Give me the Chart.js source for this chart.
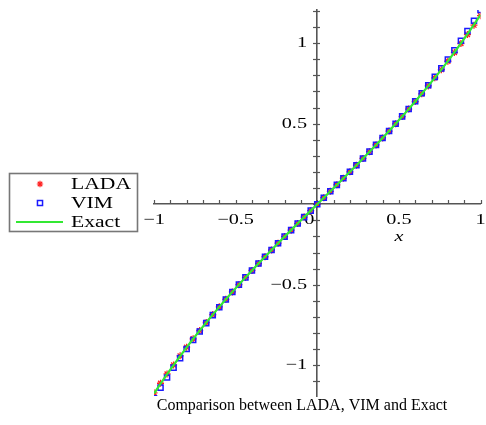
<!DOCTYPE html>
<html lang="en">
<head>
<meta charset="UTF-8">
<title>Comparison between LADA, VIM and Exact</title>
<script src="https://cdn.jsdelivr.net/npm/chart.js@4"></script>
<style>
  * { margin: 0; padding: 0; box-sizing: border-box; }
  body { background: #fff; }
  .wrap { position: relative; width: 486px; height: 425px; }
</style>
</head>
<body>
<div class="wrap"><canvas id="chart"></canvas></div>
<script>
// values
const xValues = [-1.00, -0.96, -0.92, -0.88, -0.84, -0.80, -0.76, -0.72, -0.68, -0.64, -0.60,
  -0.56, -0.52, -0.48, -0.44, -0.40, -0.36, -0.32, -0.28, -0.24, -0.20, -0.16, -0.12, -0.08, -0.04,
  0.00, 0.04, 0.08, 0.12, 0.16, 0.20, 0.24, 0.28, 0.32, 0.36, 0.40, 0.44, 0.48, 0.52, 0.56, 0.60,
  0.64, 0.68, 0.72, 0.76, 0.80, 0.84, 0.88, 0.92, 0.96, 1.00];

const ladaValues = [-1.170, -1.111, -1.053, -0.997, -0.941, -0.887, -0.835, -0.784, -0.734, -0.685, -0.637,
  -0.590, -0.544, -0.499, -0.454, -0.411, -0.368, -0.326, -0.284, -0.242, -0.201, -0.161, -0.120, -0.080, -0.040,
  0.000, 0.040, 0.080, 0.120, 0.161, 0.201, 0.242, 0.284, 0.326, 0.368, 0.411, 0.454, 0.499, 0.544, 0.590, 0.637,
  0.685, 0.734, 0.784, 0.835, 0.887, 0.941, 0.997, 1.053, 1.111, 1.170];

const vimValues = [-1.205, -1.138, -1.075, -1.014, -0.955, -0.898, -0.843, -0.790, -0.738, -0.688, -0.639,
  -0.591, -0.545, -0.499, -0.454, -0.411, -0.368, -0.326, -0.284, -0.242, -0.201, -0.161, -0.120, -0.080, -0.040,
  0.000, 0.040, 0.080, 0.120, 0.161, 0.201, 0.242, 0.284, 0.326, 0.368, 0.411, 0.454, 0.499, 0.545, 0.591, 0.639,
  0.688, 0.738, 0.790, 0.843, 0.898, 0.955, 1.014, 1.075, 1.138, 1.205];

const exactValues = [-1.175, -1.114, -1.055, -0.998, -0.942, -0.888, -0.835, -0.784, -0.734, -0.685, -0.637,
  -0.590, -0.544, -0.499, -0.454, -0.411, -0.368, -0.326, -0.284, -0.242, -0.201, -0.161, -0.120, -0.080, -0.040,
  0.000, 0.040, 0.080, 0.120, 0.161, 0.201, 0.242, 0.284, 0.326, 0.368, 0.411, 0.454, 0.499, 0.544, 0.590, 0.637,
  0.685, 0.734, 0.784, 0.835, 0.888, 0.942, 0.998, 1.055, 1.114, 1.175];

const seriesNames = ['LADA', 'VIM', 'Exact'];
const xTickLabels = [-1, -0.5, 0, 0.5, 1];
const yTickLabels = [-1, -0.5, 0.5, 1];
const caption = 'Comparison between LADA, VIM and Exact';

const serif = "'Liberation Serif', 'Times New Roman', serif";
const axisColor = '#555';
const stretch = 1.35; // the plot part of the reference is stretched sideways
const toPoints = ys => xValues.map((x, i) => ({ x: x, y: ys[i] }));
const fmt = v => (v < 0 ? '\u2212' : '') + Math.abs(v);

function wideText(ctx, text, x, y, align) {
  ctx.save();
  ctx.translate(x, y);
  ctx.scale(stretch, 1);
  ctx.textAlign = align;
  ctx.fillText(text, 0, 0);
  ctx.restore();
}

function seg(ctx, x1, y1, x2, y2) {
  ctx.beginPath();
  ctx.moveTo(x1, y1);
  ctx.lineTo(x2, y2);
  ctx.stroke();
}

// Maple-style ticks and labels on the axes through the origin
const axisDeco = {
  id: 'axisDeco',
  beforeDatasetsDraw(chart) {
    const ctx = chart.ctx;
    const xs = chart.scales.x, ys = chart.scales.y;
    const x0 = Math.round(xs.getPixelForValue(0));
    const y0 = Math.round(ys.getPixelForValue(0));
    ctx.save();
    ctx.strokeStyle = axisColor;
    ctx.lineWidth = 1.2;
    xs.ticks.forEach(t => {
      const px = Math.round(xs.getPixelForValue(t.value)) + 0.5;
      seg(ctx, px, y0, px, y0 - 4);
    });
    ys.ticks.forEach(t => {
      const py = Math.round(ys.getPixelForValue(t.value)) + 0.5;
      seg(ctx, x0 - 4, py, x0 + 3, py);
    });
    ctx.fillStyle = '#000';
    ctx.font = '15px ' + serif;
    ctx.textBaseline = 'middle';
    xs.ticks.forEach(t => {
      if (!t.label) return;
      let px = xs.getPixelForValue(t.value);
      if (t.value === 0) px -= 8;
      wideText(ctx, t.label, px, y0 + 16, 'center');
    });
    ys.ticks.forEach(t => {
      if (!t.label) return;
      wideText(ctx, t.label, x0 - 10, ys.getPixelForValue(t.value), 'right');
    });
    ctx.font = 'italic 15px ' + serif;
    wideText(ctx, 'x', xs.getPixelForValue(0.5), y0 + 33, 'center');
    ctx.restore();
  }
};

// legend box and caption
const extras = {
  id: 'extras',
  afterDraw(chart) {
    const ctx = chart.ctx;
    const ds = chart.data.datasets;
    ctx.save();
    ctx.strokeStyle = '#777';
    ctx.lineWidth = 1.6;
    ctx.strokeRect(9.5, 173.5, 128, 58);
    ctx.font = '16px ' + serif;
    ctx.fillStyle = '#000';
    ctx.textBaseline = 'middle';
    const rows = [184, 203, 222];
    seriesNames.forEach((name, i) => wideText(ctx, name, 71, rows[i] + 1, 'left'));

    ctx.strokeStyle = ds[0].borderColor;
    ctx.fillStyle = ds[0].borderColor;
    ctx.lineWidth = 1.2;
    Chart.helpers.drawPoint(ctx, { pointStyle: 'star', radius: 3.2, borderWidth: 1.2 }, 40, rows[0]);
    ctx.strokeStyle = ds[1].borderColor;
    ctx.fillStyle = 'rgba(0,0,0,0)';
    ctx.lineWidth = 1.5;
    Chart.helpers.drawPoint(ctx, { pointStyle: 'rect', radius: 3.6, borderWidth: 1.5 }, 40, rows[1]);
    ctx.strokeStyle = ds[2].borderColor;
    ctx.lineWidth = 2;
    seg(ctx, 16, rows[2], 63, rows[2]);

    ctx.fillStyle = '#000';
    ctx.textAlign = 'center';
    ctx.fillText(caption, 302, 406);
    ctx.restore();
  }
};

new Chart(document.getElementById('chart'), {
  type: 'scatter',
  data: {
    datasets: [
      {
        label: seriesNames[0],
        data: toPoints(ladaValues),
        pointStyle: 'star',
        pointRadius: 3.5,
        borderWidth: 1.3,
        borderColor: '#ff2020',
        backgroundColor: '#ff2020',
        order: 2
      },
      {
        label: seriesNames[1],
        data: toPoints(vimValues),
        pointStyle: 'rect',
        pointRadius: 3.6,
        borderWidth: 1.5,
        borderColor: '#1a1aff',
        backgroundColor: 'rgba(0,0,0,0)',
        order: 1
      },
      {
        label: seriesNames[2],
        data: toPoints(exactValues),
        showLine: true,
        pointRadius: 0,
        borderWidth: 2.2,
        borderColor: '#33e833',
        backgroundColor: '#33e833',
        order: 0
      }
    ]
  },
  options: {
    responsive: true,
    maintainAspectRatio: false,
    animation: false,
    layout: { padding: { left: 154, right: 3, top: 10, bottom: 29 } },
    plugins: {
      legend: { display: false },
      tooltip: { enabled: false }
    },
    scales: {
      x: {
        type: 'linear',
        position: { y: 0 },
        min: -1,
        max: 1,
        border: { display: true, color: axisColor, width: 1.6 },
        grid: { drawOnChartArea: false, drawTicks: false },
        ticks: {
          display: false,
          stepSize: 0.1,
          includeBounds: false,
          autoSkip: false,
          callback: v => {
            const t = xTickLabels.find(k => Math.abs(k - v) < 1e-6);
            return t === undefined ? '' : fmt(t);
          }
        }
      },
      y: {
        type: 'linear',
        position: { x: 0 },
        min: -1.19,
        max: 1.205,
        border: { display: true, color: axisColor, width: 1.6 },
        grid: { drawOnChartArea: false, drawTicks: false },
        ticks: {
          display: false,
          stepSize: 0.1,
          includeBounds: false,
          autoSkip: false,
          callback: v => {
            const t = yTickLabels.find(k => Math.abs(k - v) < 1e-6);
            return t === undefined ? '' : fmt(t);
          }
        }
      }
    }
  },
  plugins: [axisDeco, extras]
});
</script>
</body>
</html>
